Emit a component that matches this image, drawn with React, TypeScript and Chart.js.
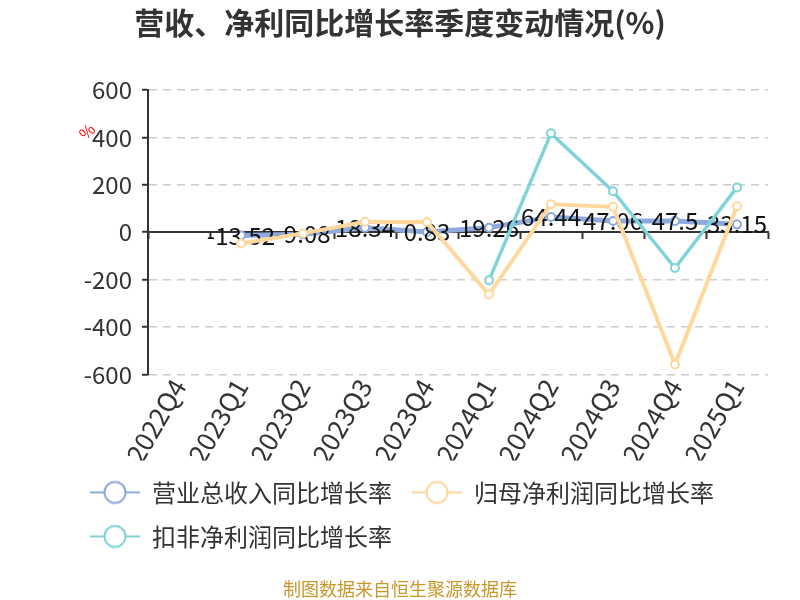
import React, { useEffect, useRef } from "react";
import { Chart, registerables } from "chart.js";

Chart.register(...registerables);

const categories = ["2022Q4", "2023Q1", "2023Q2", "2023Q3", "2023Q4", "2024Q1", "2024Q2", "2024Q3", "2024Q4", "2025Q1"];
const revenueGrowth = [null, -13.52, -9.08, 18.34, 0.83, 19.26, 64.44, 47.06, 47.5, 33.15];
const netProfitGrowth = [null, -48, -5, 44, 43, -263, 118, 107, -558, 110];
const deductedProfitGrowth = [null, null, null, null, null, -203, 417, 173, -151, 189];
const seriesNames = ["营业总收入同比增长率", "归母净利润同比增长率", "扣非净利润同比增长率"];
const seriesColors = ["#8eaadc", "#fed89c", "#80d3d8"];
const yMin = -600;
const yMax = 600;
const yStep = 200;
const titleText = "营收、净利同比增长率季度变动情况(%)";
const sourceText = "制图数据来自恒生聚源数据库";
const unitText = "%";

const FONT = '"Noto Sans CJK SC", "Noto Sans", sans-serif';

function makeIcon(color: string): HTMLCanvasElement {
  const c = document.createElement("canvas");
  c.width = 50;
  c.height = 26;
  const ctx = c.getContext("2d")!;
  ctx.strokeStyle = color;
  ctx.lineWidth = 2;
  ctx.beginPath();
  ctx.moveTo(0, 13);
  ctx.lineTo(50, 13);
  ctx.stroke();
  ctx.beginPath();
  ctx.arc(25, 13, 10.5, 0, Math.PI * 2);
  ctx.fillStyle = "#fff";
  ctx.fill();
  ctx.stroke();
  return c;
}

export default function App() {
  const ref = useRef<HTMLCanvasElement | null>(null);

  useEffect(() => {
    if (!ref.current) return;
    const icons = seriesColors.map(makeIcon);

    const extras = {
      id: "extras",
      afterLayout(chart: any) {
        if (chart.legend) chart.legend.left = 70;
      },
      afterDatasetDraw(chart: any, args: any) {
        if (args.index !== 0) return;
        const ctx = chart.ctx;
        ctx.save();
        ctx.font = `24px ${FONT}`;
        ctx.textAlign = "center";
        ctx.textBaseline = "middle";
        ctx.fillStyle = "#111";
        args.meta.data.forEach((pt: any, i: number) => {
          const v = revenueGrowth[i];
          if (v === null || v === undefined) return;
          ctx.fillText(String(v), pt.x, pt.y);
        });
        ctx.restore();
      },
      afterDraw(chart: any) {
        const ctx = chart.ctx;
        const y = chart.scales.y;
        ctx.save();
        ctx.translate(chart.chartArea.left - 61, y.getPixelForValue(425));
        ctx.rotate(-Math.PI / 4);
        ctx.font = `16px ${FONT}`;
        ctx.fillStyle = "#ff0000";
        ctx.textAlign = "center";
        ctx.textBaseline = "middle";
        ctx.fillText(unitText, 0, 0);
        ctx.restore();
      },
    };

    const mk = (i: number, data: (number | null)[], width: number, order: number) => ({
      label: seriesNames[i],
      data,
      borderColor: seriesColors[i],
      backgroundColor: "#fff",
      borderWidth: width,
      pointRadius: 4,
      pointBorderWidth: 2,
      pointBackgroundColor: "#fff",
      pointBorderColor: seriesColors[i],
      tension: 0,
      order,
    });

    const chart = new Chart(ref.current, {
      type: "line",
      data: {
        labels: categories,
        datasets: [
          mk(0, revenueGrowth, 5, 3),
          mk(1, netProfitGrowth, 4, 2),
          mk(2, deductedProfitGrowth, 3.5, 1),
        ],
      },
      plugins: [extras],
      options: {
        responsive: false,
        animation: false,
        layout: { padding: { left: 32, right: 32, top: 0, bottom: 0 } },
        scales: {
          x: {
            type: "category",
            position: { y: 0 } as any,
            offset: true,
            ticks: { display: false },
            grid: {
              display: true,
              offset: true,
              drawOnChartArea: false,
              drawTicks: true,
              tickLength: 6,
              tickColor: "#333",
              tickWidth: 2,
            },
            border: { display: true, color: "#333", width: 2 },
          },
          x2: {
            type: "category",
            position: "bottom",
            offset: true,
            grid: { display: false },
            border: { display: false },
            ticks: {
              font: { size: 26, family: FONT },
              color: "#333",
              minRotation: 60,
              maxRotation: 60,
              autoSkip: false,
              padding: -9,
            },
            afterFit(scale: any) {
              scale.height = 86;
            },
          },
          y: {
            min: yMin,
            max: yMax,
            ticks: {
              stepSize: yStep,
              font: { size: 24, family: FONT },
              color: "#333",
              padding: 10,
            },
            grid: {
              color: "#cccccc",
              lineWidth: 1.5,
              tickColor: "#333",
              tickLength: 6,
              tickWidth: 2,
            },
            border: { display: true, color: "#333", width: 2, dash: [8, 6] },
            afterFit(scale: any) {
              scale.width = 116;
            },
          },
        },
        plugins: {
          title: {
            display: true,
            text: titleText,
            color: "#333",
            font: { size: 30, weight: "bold", family: FONT },
            padding: { top: 5, bottom: 49 },
          },
          subtitle: {
            display: true,
            position: "bottom",
            text: sourceText,
            color: "#c9962b",
            font: { size: 18, family: FONT },
            padding: { top: 20, bottom: 0 },
          },
          legend: {
            display: true,
            position: "bottom",
            align: "start",
            labels: {
              font: { size: 24, family: FONT },
              color: "#333",
              padding: 20,
              usePointStyle: true,
              pointStyleWidth: 50,
              sort: (a: any, b: any) => a.datasetIndex - b.datasetIndex,
              generateLabels: (ch: any) => {
                const items = (Chart as any).defaults.plugins.legend.labels.generateLabels(ch);
                items.forEach((it: any) => {
                  it.pointStyle = icons[it.datasetIndex];
                });
                return items;
              },
            },
          },
          tooltip: { enabled: false },
        },
      } as any,
    });

    return () => chart.destroy();
  }, []);

  return (
    <div style={{ position: "absolute", left: 0, top: 0, width: 800, height: 600, background: "#fff" }}>
      <canvas ref={ref} width={800} height={600} style={{ display: "block" }} />
    </div>
  );
}
